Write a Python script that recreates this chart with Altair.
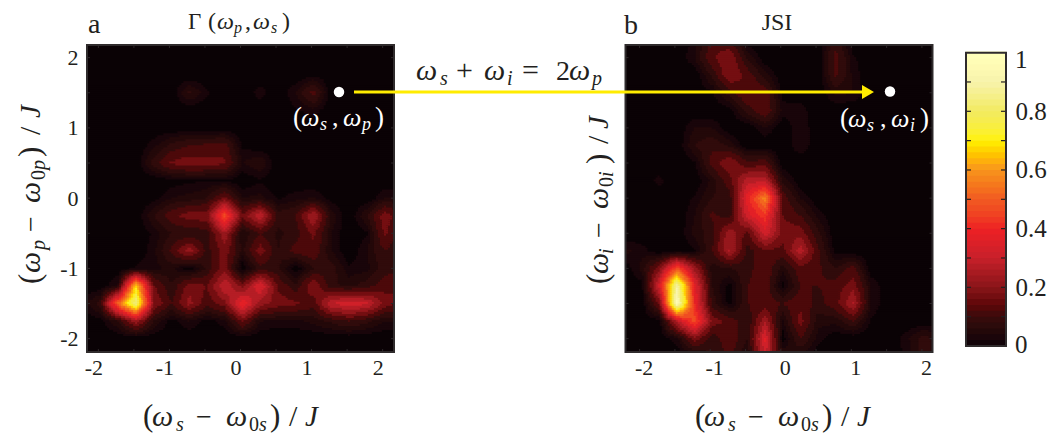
import altair as alt
import numpy as np
import pandas as pd

Z = [0] * 19

grid_a = [
    Z, Z,
    [0,0,0,0,0,0,0,0,0,0,0,0,0,.02,0,0,0,0,0],
    [0,0,0,0,0,0,.09,.03,0,0,.04,0,.05,.14,0,0,0,0,0],
    [0,0,0,0,0,0,0,0,0,0,0,0,.02,.04,0,0,0,0,0],
    Z,
    [0,0,0,0,.04,.09,.12,.13,.14,.02,0,0,0,0,0,0,0,0,0],
    [0,0,0,0,.10,.18,.20,.19,.18,.05,.08,0,0,0,0,0,0,0,0],
    [0,0,0,0,0,.01,.02,.02,.02,0,.02,0,0,0,0,0,0,0,0],
    [0,0,0,0,.01,.05,.06,.08,.18,.05,.06,.02,.04,.05,.01,0,0,.05,.05],
    [0,0,0,0,.08,.15,.20,.20,.50,.18,.32,.10,.12,.28,.07,0,.08,.20,.13],
    [0,0,0,0,.03,.08,.08,.10,.26,.05,.12,.07,.10,.18,.05,0,.02,.18,.10],
    [0,0,0,0,.04,.13,.25,.10,.20,.07,.20,.08,.14,.16,.05,0,.05,.12,.07],
    [0,0,0,.03,.04,.06,0,.09,.20,0,.10,.09,0,.08,.10,.03,.04,.10,.10],
    [0,0,.06,.70,.18,.08,.20,.17,.32,.20,.38,.16,.09,.22,.09,.07,.10,.15,.18],
    [.03,.10,.55,.88,.22,.12,.24,.14,.20,.42,.24,.20,.18,.14,.32,.36,.33,.20,.15],
    [0,.01,.08,.25,.08,.01,.05,.01,.04,.18,.05,.04,.04,.06,.09,.12,.09,.05,.05],
    Z, Z,
]
grid_b = [
    [0,0,0,0,.03,.14,.12,0,0,0,0,0,.10,0,0,0,0,0,0],
    [0,0,0,0,.05,.16,.22,.07,0,0,0,0,.14,.03,0,0,0,0,0],
    [0,0,0,0,0,.09,.22,.15,.06,0,0,0,.13,.04,0,0,0,0,0],
    [0,0,0,0,0,.02,.10,.17,.15,.01,0,0,.06,.05,0,0,0,0,0],
    [0,0,0,0,0,0,.01,.10,.16,.04,.04,0,0,0,0,0,0,0,0],
    [0,0,0,0,.05,.05,0,0,.05,0,.05,0,0,0,0,0,0,0,0],
    [0,0,0,0,.08,.11,.07,0,0,0,.05,0,0,0,0,0,0,0,0],
    [0,0,0,0,.02,.14,.22,.13,.15,0,0,0,0,0,0,0,0,0,0],
    [0,0,.035,0,0,.06,.15,.30,.30,.07,0,0,0,0,0,0,0,0,0],
    [0,0,0,0,.03,.08,.10,.40,.60,.15,.05,0,0,0,0,0,0,0,0],
    [0,0,0,0,.05,.13,.10,.35,.45,.17,.12,.04,0,0,0,0,0,0,0],
    [0,0,0,0,.06,.10,.26,.15,.35,.20,.20,.09,0,0,0,0,0,0,0],
    [.06,.04,0,0,.02,.12,.28,.10,.16,.15,.30,.13,.01,0,0,0,0,0,0],
    [0,.06,.20,.50,.25,.06,.08,.10,.16,.06,.15,.13,.08,.14,0,0,0,0,0],
    [0,.01,.35,.92,.40,.08,.01,.12,.16,.01,.12,.12,.14,.20,.05,0,0,0,0],
    [0,0,.18,1.0,.42,.10,.01,.12,.14,.12,.16,.10,.15,.28,.05,0,0,0,0],
    [0,0,.01,.30,.50,.20,.15,.08,.26,.04,.19,.06,.06,.12,.02,0,0,0,0],
    [0,0,0,.04,.20,.09,.16,.08,.38,.01,.12,.04,0,0,0,0,.04,.10,.05],
    [0,0,0,0,.02,.08,.13,.04,.33,.08,.04,0,0,0,0,0,.03,.10,.05],
]
contour_levels = [0, .025, .05, .08, .12, .17, .22, .27, .32, .37, .42, .47, .52, .57,
                  .62, .67, .72, .77, .82, .87, .92, .97]
cmap_stops = [0, .05, .1, .14, .2, .3, .4, .5, .6, .7, .8, .9, 1]
cmap_colors = ["#0a0205", "#230809", "#3a0b0b", "#5e0707", "#8a1519", "#c8202a", "#ee2024",
               "#f15a22", "#f7941d", "#fff200", "#f2ea60", "#f7f3ac", "#ffffff"]
bar_levels = [i / 50 for i in range(50)]
axis_ticks = [-2, -1, 0, 1, 2]
minor_ticks = [-2, -1.5, -1, -.5, 0, .5, 1, 1.5, 2]
bar_ticks = [.1, .2, .3, .4, .5, .6, .7, .8, .9]
bar_labels = [.2, .4, .6, .8]

FONT = "Liberation Serif"
INK = "#231f20"
W, H = 307, 307
GAP = 33.5
WA = 625.5 - 87 - GAP   # panel a's cell, whose scale only fills the first W pixels
dom_ax, dom_bx, dom_y = [-2.16, 2.16], [-2.2, 2.15], [-2.19, 2.18]
color_scale = alt.Scale(domain=cmap_stops, range=cmap_colors)


def contour_cells(grid, xd, yd):
    """contourf-style rendering of the read grid: filled bands of the given levels."""
    g = np.array(grid, float)
    rows = []
    nx, ny = 153, 153
    xe = np.linspace(xd[0], xd[1], nx + 1)
    ye = np.linspace(yd[1], yd[0], ny + 1)
    dx, dy = xe[1] - xe[0], ye[0] - ye[1]
    xc = (xe[:-1] + xe[1:]) / 2
    yc = (ye[:-1] + ye[1:]) / 2
    gx = np.clip((xc + 2.25) / .25, 0, 17.999)
    ix = gx.astype(int)
    fx = gx - ix
    lv = np.array(contour_levels)
    for j, y in enumerate(yc):
        gy = min(max((2.25 - y) / .25, 0), 17.999)
        iy = int(gy)
        fy = gy - iy
        r = g[iy] * (1 - fy) + g[iy + 1] * fy
        v = r[ix] * (1 - fx) + r[ix + 1] * fx
        q = np.digitize(v, lv) - 1
        s = 0
        for i in range(1, nx + 1):
            if i == nx or q[i] != q[s]:
                rows.append(dict(x=xe[s], x2=xd[1] if i == nx else xe[i] + dx,
                                 y=ye[j], y2=max(ye[j + 1] - dy, yd[0]), v=float(lv[q[s]])))
                s = i
    # later rows and runs overlap earlier ones, so no seams show; paint runs right to left
    df = pd.DataFrame(rows)
    df["r"] = -df["y"]
    df["c"] = -df["x"]
    return df.sort_values(["r", "c"]).drop(columns=["r", "c"]).reset_index(drop=True)


ONE = alt.Data(values=[{"a": 0}])


def txt(x, y, s, size=28, italic=False, angle=0, color=INK, font=FONT, align="left"):
    kw = dict(text=s, fontSize=size, font=font, color=color, align=align, baseline="alphabetic")
    if italic:
        kw["fontStyle"] = "italic"
    if angle:
        kw["angle"] = angle
    return alt.Chart(ONE).mark_text(**kw).encode(x=alt.value(x), y=alt.value(y))


def hmath(ox, oy, base, pieces, shift=0, color=INK):
    return [txt(x + shift - ox, base + dy - oy, s, size, it, color=color) for x, s, size, it, dy in pieces]


def vmath(ox, oy, base, pieces):
    return [txt(base + dx - ox, y - oy, s, size, it, angle=270) for y, s, size, it, dx in pieces]


xlabel = [(143, "(", 31, False, 0), (152, "ω", 30, True, 0), (176, "s", 20, True, 5),
          (196, "−", 28, False, 0), (226, "ω", 30, True, 0), (249, "0", 20, False, 5),
          (259, "s", 20, True, 5), (270, ")", 31, False, 0), (289, "/", 30, False, 0),
          (305, "J", 29, True, 0)]
ylabel_a = [(283, "(", 31, False, 0), (272, "ω", 30, True, 0), (249, "p", 20, True, 5),
            (231, "−", 28, False, 0), (202, "ω", 30, True, 0), (179, "0", 20, False, 5),
            (169, "p", 20, True, 5), (156, ")", 31, False, 0), (134, "/", 30, False, 0),
            (117, "J", 29, True, 0)]
ylabel_b = [(283, "(", 31, False, 0), (273, "ω", 30, True, 0), (253, "i", 20, True, 5),
            (237, "−", 28, False, 0), (208, "ω", 30, True, 0), (186, "0", 20, False, 5),
            (176, "i", 20, True, 5), (163, ")", 31, False, 0), (143, "/", 30, False, 0),
            (128, "J", 29, True, 0)]
title_a = [(188, "Γ", 23, False, 0), (208, "(", 24, False, 0), (217, "ω", 24, True, 0),
           (234, "p", 16, True, 4), (245, ",", 24, False, 0), (253, "ω", 24, True, 0),
           (271, "s", 16, True, 4), (282, ")", 24, False, 0)]
note_a = [(293, "(", 27, False, 0), (301, "ω", 26, True, 0), (320, "s", 18, True, 4),
          (332, ",", 26, False, 0), (343, "ω", 26, True, 0), (362, "p", 18, True, 4),
          (375, ")", 27, False, 0)]
note_b = [(840, "(", 27, False, 0), (848, "ω", 26, True, 0), (867, "s", 18, True, 4),
          (880, ",", 26, False, 0), (891, "ω", 26, True, 0), (910, "i", 18, True, 4),
          (920, ")", 27, False, 0)]
equation = [(416, "ω", 30, True, 0), (440, "s", 20, True, 5), (456, "+", 30, False, 0),
            (484, "ω", 30, True, 0), (507, "i", 20, True, 5), (522, "=", 30, False, 0),
            (556, "2", 28, False, 0), (569, "ω", 30, True, 0), (592, "p", 20, True, 5)]


def panel(grid, xd, yd, cell_w, show_y, label_off, extra):
    cells = contour_cells(grid, xd, yd)
    xs = alt.Scale(domain=xd, nice=False, zero=False, range=[0, W])
    ys = alt.Scale(domain=yd, nice=False, zero=False)
    xax = alt.Axis(values=axis_ticks, labelExpr="'' + datum.value", ticks=False, domain=False,
                   grid=False, title=None, labelFont=FONT, labelFontSize=22, labelColor=INK,
                   labelPadding=5, labelOffset=label_off)
    if show_y:
        yax = alt.Axis(values=axis_ticks, labelExpr="'' + datum.value", ticks=False, domain=False,
                       grid=False, title=None, labelFont=FONT, labelFontSize=22, labelColor=INK,
                       labelPadding=9)
    else:
        yax = None
    base = alt.Chart(cells).mark_rect().encode(
        x=alt.X("x:Q", scale=xs, axis=xax),
        x2="x2:Q",
        y=alt.Y("y:Q", scale=ys, axis=yax),
        y2="y2:Q",
        color=alt.Color("v:Q", scale=color_scale, legend=None),
    )
    tick_x = pd.DataFrame({"t": minor_ticks})
    ticks = []
    for a, b in ((H, H - 3), (0, 3)):
        ticks.append(alt.Chart(tick_x).mark_rule(color="#2b2527", strokeWidth=1).encode(
            x=alt.X("t:Q", scale=xs), y=alt.value(a), y2=alt.value(b)))
    for a, b in ((0, 3), (W, W - 3)):
        ticks.append(alt.Chart(tick_x).mark_rule(color="#2b2527", strokeWidth=1).encode(
            y=alt.Y("t:Q", scale=ys), x=alt.value(a), x2=alt.value(b)))
    frame = alt.Chart(ONE).mark_rect(filled=False, stroke="#2f2b2c", strokeWidth=2).encode(
        x=alt.value(0), x2=alt.value(W), y=alt.value(0), y2=alt.value(H))
    return alt.layer(base, *ticks, frame, *extra).properties(width=cell_w, height=H)


OXA, OXB, OY = 87, 625.5, 44

extra_a = [txt(88 - OXA, 32 - OY, "a", 28)]
extra_a += vmath(OXA, OY, 40, ylabel_a)
extra_a += hmath(OXA, OY, 425, xlabel)
extra_a += hmath(OXA, OY, 28, title_a)
extra_a += hmath(OXA, OY, 125, note_a, color="#ffffff")
extra_a.append(alt.Chart(ONE).mark_point(filled=True, color="#ffffff", opacity=1, size=110).encode(
    x=alt.value(339 - OXA), y=alt.value(91 - OY)))

extra_b = [txt(624 - OXB, 33 - OY, "b", 28), txt(777 - OXB, 29 - OY, "JSI", 24, align="center")]
extra_b += vmath(OXB, OY, 608, ylabel_b)
extra_b += hmath(OXB, OY, 425, xlabel, shift=552)
extra_b += hmath(OXB, OY, 79, equation)
extra_b += hmath(OXB, OY, 126, note_b, color="#ffffff")
extra_b.append(alt.Chart(ONE).mark_rule(color="#ffec00", strokeWidth=3).encode(
    x=alt.value(354 - OXB), x2=alt.value(866 - OXB), y=alt.value(91 - OY)))
extra_b.append(alt.Chart(ONE).mark_point(filled=True, color="#ffec00", opacity=1, shape="triangle-right", size=190).encode(
    x=alt.value(868 - OXB), y=alt.value(91 - OY)))
extra_b.append(alt.Chart(ONE).mark_point(filled=True, color="#ffffff", opacity=1, size=110).encode(
    x=alt.value(890 - OXB), y=alt.value(90.5 - OY)))

pa = panel(grid_a, dom_ax, dom_y, WA, True, -5, extra_a)
pb = panel(grid_b, dom_bx, dom_y, W, False, 4, extra_b)

# colour bar
BW = 40
bar_y = alt.Scale(domain=[-0.0205, 1.026], nice=False, zero=False)
bar_df = pd.DataFrame({"lo": bar_levels, "hi": [v + .024 for v in bar_levels],
                       "mid": [v + .01 for v in bar_levels]})
bar = alt.Chart(bar_df).mark_rect().encode(
    x=alt.value(0), x2=alt.value(BW),
    y=alt.Y("lo:Q", scale=bar_y, axis=alt.Axis(orient="right", values=bar_labels, ticks=False, domain=False,
                                               grid=False, title=None, labelFont=FONT, labelFontSize=25,
                                               labelColor=INK, labelPadding=9, labelAlign="left")),
    y2="hi:Q",
    color=alt.Color("mid:Q", scale=color_scale, legend=None),
)
tick_df = pd.DataFrame({"t": bar_ticks})
bar_t1 = alt.Chart(tick_df).mark_rule(color=INK, strokeWidth=1.2).encode(
    y=alt.Y("t:Q", scale=bar_y), x=alt.value(0), x2=alt.value(5))
bar_t2 = alt.Chart(tick_df).mark_rule(color=INK, strokeWidth=1.2).encode(
    y=alt.Y("t:Q", scale=bar_y), x=alt.value(BW - 5), x2=alt.value(BW))
bar_edge = alt.Chart(pd.DataFrame({"lo": [0], "hi": [1]})).mark_rect(filled=False, stroke="#2f2b2c", strokeWidth=2).encode(
    x=alt.value(0), x2=alt.value(BW), y=alt.Y("lo:Q", scale=bar_y), y2="hi:Q")
bar_end = [txt(49, 58 + 9 - OY, "1", 25), txt(49, 343 + 9 - OY, "0", 25)]
pc = alt.layer(bar, bar_t1, bar_t2, bar_edge, *bar_end).properties(width=BW, height=H)

chart = alt.hconcat(pa, pb, pc, spacing=GAP, bounds="flush").properties(
    padding={"left": 7, "top": 2, "right": 0, "bottom": 0}
).configure_view(stroke=None).resolve_scale(color="independent")

chart.save("out.html", embed_options={"renderer": "svg", "actions": False})
